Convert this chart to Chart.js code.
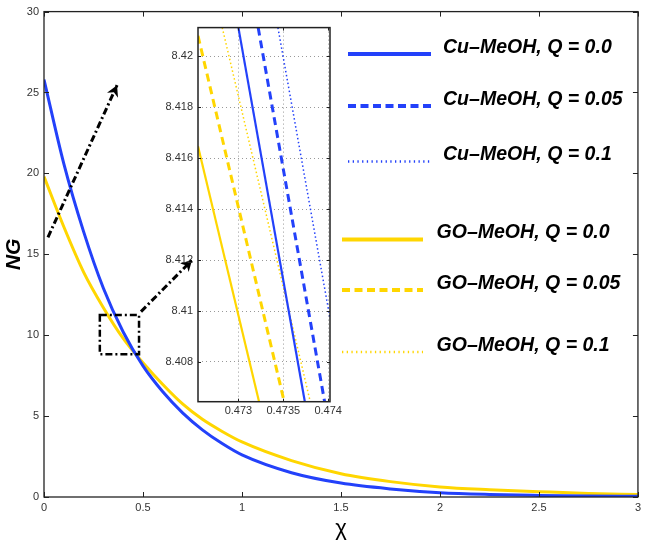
<!DOCTYPE html>
<html>
<head>
<meta charset="utf-8">
<script src="https://cdn.jsdelivr.net/npm/chart.js@4.4.1/dist/chart.umd.min.js"></script>
<style>
  html, body { margin: 0; padding: 0; background: #fff; }
  #wrap { position: relative; width: 645px; height: 546px; }
  #main { position: absolute; left: 0; top: 0; }
  #inset { position: absolute; left: 150px; top: 16px; }
</style>
</head>
<body>
<div id="wrap">
  <canvas id="main" width="645" height="546"></canvas>
  <canvas id="inset" width="200" height="414"></canvas>
</div>
<script>
// main plot: NG against chi
const chi = [0, 0.1, 0.2, 0.3, 0.4, 0.5, 0.6, 0.7, 0.8, 0.9, 1, 1.25, 1.5, 1.75, 2, 2.25, 2.5, 2.75, 3];
const ngCu = [25.8, 20.6, 16.4, 12.9, 10.2, 8.1, 6.5, 5.2, 4.15, 3.3, 2.6, 1.5, 0.86, 0.5, 0.27, 0.16, 0.1, 0.06, 0.04];
const ngGO = [19.8, 16.7, 13.9, 11.7, 9.8, 8.3, 6.95, 5.75, 4.8, 4.05, 3.4, 2.25, 1.44, 0.95, 0.62, 0.45, 0.33, 0.22, 0.15];
const xTicks = [0, 0.5, 1, 1.5, 2, 2.5, 3];
const yTicks = [0, 5, 10, 15, 20, 25, 30];

// zoomed inset near chi = 0.4735 (end points of each line, [chi, NG])
const insetCu00 = [[0.47300, 8.42113], [0.47374, 8.40644]];
const insetCu05 = [[0.47322, 8.42113], [0.47396, 8.40644]];
const insetCu10 = [[0.47344, 8.42113], [0.47402, 8.40972]];
const insetGO00 = [[0.47255, 8.41647], [0.47323, 8.40644]];
const insetGO05 = [[0.47255, 8.42081], [0.47351, 8.40644]];
const insetGO10 = [[0.47282, 8.42113], [0.47380, 8.40644]];
const insetXTicks = [0.473, 0.4735, 0.474];
const insetYTicks = [8.408, 8.41, 8.412, 8.414, 8.416, 8.418, 8.42];

const seriesLabels = [
  'Cu\u2013MeOH, Q = 0.0', 'Cu\u2013MeOH, Q = 0.05', 'Cu\u2013MeOH, Q = 0.1',
  'GO\u2013MeOH, Q = 0.0', 'GO\u2013MeOH, Q = 0.05', 'GO\u2013MeOH, Q = 0.1'
];

// annotation: arrows and zoom box, in data units of the main plot
const arrowA = [[0.02, 16.05], [0.369, 25.45]];
const zoomBox = [[0.282, 8.83], [0.48, 11.25]];
const arrowB = [[0.49, 11.46], [0.748, 14.65]];

const BLUE = 'rgb(35,65,250)';
const GOLD = 'rgb(255,214,0)';
const FONT = '"Liberation Sans", Arial, Helvetica, sans-serif';
const tickFont = { family: FONT, size: 11 };

const pts = (xs, ys) => xs.map((x, i) => ({ x: x, y: ys[i] }));
const pairs = arr => arr.map(p => ({ x: p[0], y: p[1] }));

const frameTicks = {
  id: 'frameTicks',
  afterDraw(chart, args, opts) {
    const { ctx, chartArea: a, scales: { x, y } } = chart;
    const L = opts.len;
    ctx.save();
    ctx.setLineDash([]);
    ctx.strokeStyle = opts.color;
    ctx.lineWidth = opts.width;
    ctx.beginPath();
    x.ticks.forEach(t => {
      const p = Math.round(x.getPixelForValue(t.value)) + 0.5;
      ctx.moveTo(p, a.bottom); ctx.lineTo(p, a.bottom - L);
      ctx.moveTo(p, a.top); ctx.lineTo(p, a.top + L);
    });
    y.ticks.forEach(t => {
      const p = Math.round(y.getPixelForValue(t.value)) + 0.5;
      ctx.moveTo(a.left, p); ctx.lineTo(a.left + L, p);
      ctx.moveTo(a.right, p); ctx.lineTo(a.right - L, p);
    });
    ctx.stroke();
    ctx.lineWidth = opts.frameWidth;
    ctx.strokeRect(a.left, a.top, a.right - a.left, a.bottom - a.top);
    ctx.restore();
  }
};

const whiteArea = {
  id: 'whiteArea',
  beforeDraw(chart) {
    const { ctx, chartArea: a } = chart;
    ctx.save();
    ctx.fillStyle = '#fff';
    ctx.fillRect(a.left, a.top, a.right - a.left, a.bottom - a.top);
    ctx.restore();
  }
};

function arrowHead(ctx, x0, y0, x1, y1, size) {
  const ang = Math.atan2(y1 - y0, x1 - x0);
  ctx.save();
  ctx.setLineDash([]);
  ctx.translate(x1, y1);
  ctx.rotate(ang);
  ctx.beginPath();
  ctx.moveTo(0, 0);
  ctx.lineTo(-size, -size * 0.55);
  ctx.lineTo(-size * 0.7, 0);
  ctx.lineTo(-size, size * 0.55);
  ctx.closePath();
  ctx.fill();
  ctx.restore();
}

const annotations = {
  id: 'annotations',
  afterDatasetsDraw(chart) {
    const { ctx, scales: { x, y } } = chart;
    const px = p => [x.getPixelForValue(p[0]), y.getPixelForValue(p[1])];
    ctx.save();
    ctx.strokeStyle = '#000';
    ctx.fillStyle = '#000';
    ctx.lineWidth = 3;
    ctx.setLineDash([7, 3, 2, 3]);
    [arrowA, arrowB].forEach(a => {
      const [x0, y0] = px(a[0]);
      const [x1, y1] = px(a[1]);
      ctx.beginPath(); ctx.moveTo(x0, y0); ctx.lineTo(x1, y1); ctx.stroke();
      arrowHead(ctx, x0, y0, x1, y1, 11);
    });
    const [bx0, by0] = px(zoomBox[0]);
    const [bx1, by1] = px(zoomBox[1]);
    ctx.lineWidth = 2.5;
    ctx.strokeRect(bx0, by1, bx1 - bx0, by0 - by1);
    ctx.restore();
  }
};

const legendStyles = [
  { color: BLUE, width: 4, dash: [], x0: 348, x1: 431, y: 54, tx: 443 },
  { color: BLUE, width: 4, dash: [8, 4.5], x0: 348, x1: 431, y: 106, tx: 443 },
  { color: BLUE, width: 2.5, dash: [1.3, 3.4], x0: 348, x1: 431, y: 161.5, tx: 443 },
  { color: GOLD, width: 4, dash: [], x0: 342, x1: 423, y: 239.5, tx: 436.5 },
  { color: GOLD, width: 4, dash: [8, 4.5], x0: 342, x1: 423, y: 290, tx: 436.5 },
  { color: GOLD, width: 2.5, dash: [1.3, 3.4], x0: 342, x1: 423, y: 352, tx: 436.5 }
];

const sideLegend = {
  id: 'sideLegend',
  afterDraw(chart) {
    const ctx = chart.ctx;
    ctx.save();
    seriesLabels.forEach((label, i) => {
      const s = legendStyles[i];
      ctx.strokeStyle = s.color;
      ctx.lineWidth = s.width;
      ctx.setLineDash(s.dash);
      ctx.beginPath(); ctx.moveTo(s.x0, s.y); ctx.lineTo(s.x1, s.y); ctx.stroke();
      ctx.save();
      ctx.translate(s.tx, s.y - 1.5);
      ctx.scale(0.93, 1);
      ctx.font = 'italic bold 21px ' + FONT;
      ctx.fillStyle = '#000';
      ctx.textBaseline = 'alphabetic';
      ctx.textAlign = 'left';
      ctx.fillText(label, 0, 0);
      ctx.restore();
    });
    ctx.restore();
  }
};

new Chart(document.getElementById('main'), {
  type: 'scatter',
  data: {
    datasets: [
      { label: seriesLabels[0], data: pts(chi, ngCu), showLine: true, borderColor: BLUE, borderWidth: 3,
        pointRadius: 0, cubicInterpolationMode: 'monotone' },
      { label: seriesLabels[3], data: pts(chi, ngGO), showLine: true, borderColor: GOLD, borderWidth: 3,
        pointRadius: 0, cubicInterpolationMode: 'monotone' }
    ]
  },
  options: {
    responsive: false,
    animation: false,
    layout: { padding: { top: 11, right: 5, left: 0, bottom: 0 } },
    plugins: {
      legend: { display: false },
      tooltip: { enabled: false },
      frameTicks: { color: '#222', width: 1, frameWidth: 1.3, len: 5 }
    },
    scales: {
      x: {
        type: 'linear', min: 0, max: 3,
        grid: { display: false, drawTicks: false },
        border: { display: false },
        afterBuildTicks: s => { s.ticks = xTicks.map(v => ({ value: v })); },
        afterFit: s => { s.height = 49; },
        ticks: { padding: 4, font: tickFont, color: '#333', maxRotation: 0, autoSkip: false,
                 callback: v => String(v) },
        title: { display: true, text: '\u03c7', color: '#000', font: { family: FONT, size: 22 },
                 padding: { top: 0, bottom: 4 } }
      },
      y: {
        type: 'linear', min: 0, max: 30,
        grid: { display: false, drawTicks: false },
        border: { display: false },
        afterBuildTicks: s => { s.ticks = yTicks.map(v => ({ value: v })); },
        afterFit: s => { s.width = 44; },
        ticks: { padding: 5, font: tickFont, color: '#333', autoSkip: false, callback: v => String(v) },
        title: { display: true, text: 'NG', color: '#000',
                 font: { family: FONT, size: 21, weight: 'bold', style: 'italic' },
                 padding: { top: 2, bottom: 0 } }
      }
    }
  },
  plugins: [frameTicks, annotations, sideLegend]
});

const insetSet = (label, arr, color, width, dash) => ({
  label: label, data: pairs(arr), showLine: true, borderColor: color, borderWidth: width,
  borderDash: dash, pointRadius: 0, clip: 0
});

new Chart(document.getElementById('inset'), {
  type: 'scatter',
  data: {
    datasets: [
      insetSet(seriesLabels[0], insetCu00, BLUE, 2.2, []),
      insetSet(seriesLabels[1], insetCu05, BLUE, 3, [8, 5]),
      insetSet(seriesLabels[2], insetCu10, BLUE, 1.5, [1.5, 2.5]),
      insetSet(seriesLabels[3], insetGO00, GOLD, 2.2, []),
      insetSet(seriesLabels[4], insetGO05, GOLD, 3, [8, 5]),
      insetSet(seriesLabels[5], insetGO10, GOLD, 1.5, [1.5, 2.5])
    ]
  },
  options: {
    responsive: false,
    animation: false,
    layout: { padding: { top: 7, right: 20, left: 0, bottom: 0 } },
    plugins: {
      legend: { display: false },
      tooltip: { enabled: false },
      frameTicks: { color: '#222', width: 1, frameWidth: 1.5, len: 3 }
    },
    scales: {
      x: {
        type: 'linear', min: 0.47255, max: 0.47402,
        grid: { display: true, drawTicks: false, color: '#999', lineWidth: 1 },
        border: { display: false, dash: [1, 3] },
        afterBuildTicks: s => { s.ticks = insetXTicks.map(v => ({ value: v })); },
        afterFit: s => { s.height = 28.3; },
        ticks: { padding: 3, font: tickFont, color: '#333', maxRotation: 0, autoSkip: false,
                 callback: v => String(+v.toFixed(5)) }
      },
      y: {
        type: 'linear', min: 8.40644, max: 8.42113,
        grid: { display: true, drawTicks: false, color: '#999', lineWidth: 1 },
        border: { display: false, dash: [1, 3] },
        afterBuildTicks: s => { s.ticks = insetYTicks.map(v => ({ value: v })); },
        afterFit: s => { s.width = 48; },
        ticks: { padding: 5, font: tickFont, color: '#333', autoSkip: false,
                 callback: v => String(+v.toFixed(4)) }
      }
    }
  },
  plugins: [whiteArea, frameTicks]
});
</script>
</body>
</html>
